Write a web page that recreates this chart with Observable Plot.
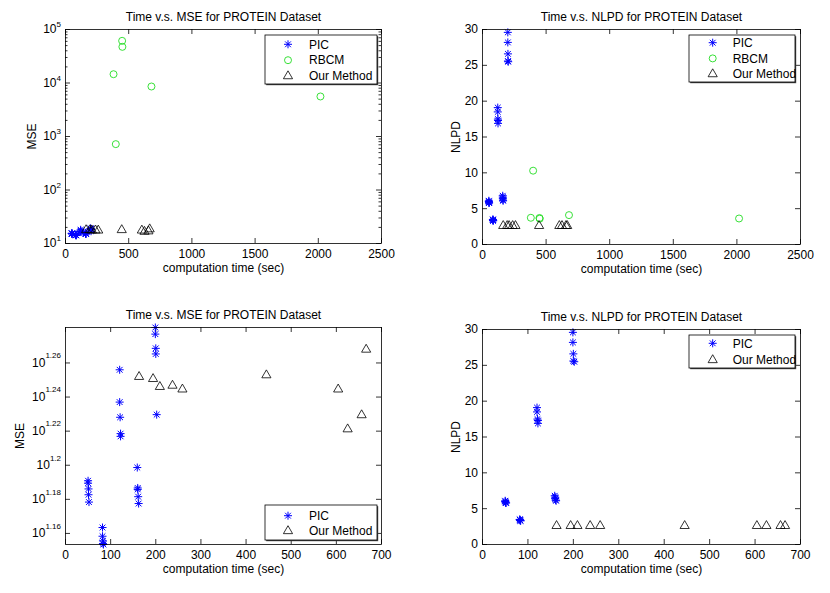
<!DOCTYPE html>
<html><head><meta charset="utf-8">
<script src="https://cdn.jsdelivr.net/npm/d3@7"></script>
<script src="https://cdn.jsdelivr.net/npm/@observablehq/plot@0.6"></script>
<style>
body{margin:0;background:#fff;}
#root{position:relative;width:830px;height:593px;background:#fff;font-family:"Liberation Sans",Arial,Helvetica,sans-serif;}
.panel{position:absolute;}
</style></head><body><div id="root"></div>
<script>
// ---------- data ----------
const seriesNames = ["PIC", "RBCM", "Our Method"];

const picTime = [50, 50, 51, 51, 52,  82, 82, 83, 83, 84,  120, 120, 121, 122, 122,  159, 160, 160, 161, 162,  199, 199, 200, 200, 202];
const picMSE  = [15.52, 15.47, 15.35, 15.23, 15.08,  14.57, 14.40, 14.31, 14.26, 14.24,  18.03, 17.26, 16.91, 16.54, 16.48,  15.80, 15.37, 15.34, 15.19, 15.05,  19.09, 18.92, 18.56, 18.42, 16.97];
const picNLPD = [6.1, 6.0, 5.9, 5.8, 5.8,  3.5, 3.45, 3.4, 3.35, 3.3,  19.1, 18.5, 17.5, 17.3, 16.9,  6.8, 6.6, 6.4, 6.2, 6.1,  29.6, 28.2, 26.6, 25.6, 25.5];

const rbcmTime = [380, 398, 448, 450, 680, 2017];
const rbcmMSE  = [14600, 720, 61400, 47400, 8600, 5600];
const rbcmNLPD = [3.73, 10.3, 3.7, 3.6, 4.1, 3.63];

const ourTime = [163, 194, 209, 237, 259, 445, 604, 625, 656, 666];
const ourMSE  = [17.86, 17.81, 17.62, 17.65, 17.56, 17.90, 17.56, 16.64, 16.96, 18.53];
const ourNLPD = [2.6, 2.6, 2.6, 2.6, 2.6, 2.6, 2.6, 2.6, 2.6, 2.6];

const topXTicks = [0, 500, 1000, 1500, 2000, 2500];
const bottomXTicks = [0, 100, 200, 300, 400, 500, 600, 700];
const mseTopExponents = [1, 2, 3, 4, 5];
const mseBottomExponents = [1.16, 1.18, 1.2, 1.22, 1.24, 1.26];
const nlpdTicks = [0, 5, 10, 15, 20, 25, 30];

const xLabel = "computation time (sec)";
const titleMSE = "Time v.s. MSE for PROTEIN Dataset";
const titleNLPD = "Time v.s. NLPD for PROTEIN Dataset";
const labelMSE = "MSE";
const labelNLPD = "NLPD";

// ---------- tables ----------
const pic = picTime.map((t, i) => ({t, mse: picMSE[i], nlpd: picNLPD[i]}));
const rbcm = rbcmTime.map((t, i) => ({t, mse: rbcmMSE[i], nlpd: rbcmNLPD[i]}));
const ours = ourTime.map((t, i) => ({t, mse: ourMSE[i], nlpd: ourNLPD[i]}));

const FONT = '"Liberation Sans", Arial, Helvetica, sans-serif';

// MATLAB-style "*" marker: a plus overlaid with a shorter x
const starSymbol = {
  draw(ctx, size) {
    const r = Math.sqrt(size / Math.PI);
    const d = r * 0.72;
    ctx.moveTo(-r, 0); ctx.lineTo(r, 0);
    ctx.moveTo(0, -r); ctx.lineTo(0, r);
    ctx.moveTo(-d, -d); ctx.lineTo(d, d);
    ctx.moveTo(-d, d); ctx.lineTo(d, -d);
  }
};

const styles = {
  PIC: {symbol: starSymbol, r: 4, color: "#0000ff", sw: 1},
  RBCM: {symbol: d3.symbolCircle, r: 3.5, color: "#22dd22", sw: 0.9},
  "Our Method": {symbol: d3.symbolTriangle, r: 3.4, color: "#000000", sw: 0.8}
};

const minorTop = [];
for (const e of [1, 2, 3, 4]) for (let k = 2; k <= 9; k++) minorTop.push(k * 10 ** e);

function expFormat(d) {
  let e = Math.log10(d).toFixed(2).replace(/0+$/, "").replace(/\.$/, "");
  return "10^" + e;
}

function panel(o) {
  const {w, h, ml, mr, mt, mb} = o;
  const iw = w - ml - mr, ih = h - mt - mb;
  const tk = {stroke: "black", strokeWidth: 0.8};
  const marks = [
    Plot.tickX(o.xTicks, {x: d => d, insetTop: ih - 5, ...tk}),
    Plot.tickX(o.xTicks, {x: d => d, insetBottom: ih - 5, ...tk}),
    Plot.tickY(o.yTicks, {y: d => d, insetRight: iw - 5, ...tk}),
    Plot.tickY(o.yTicks, {y: d => d, insetLeft: iw - 5, ...tk})
  ];
  if (o.yMinor) {
    marks.push(Plot.tickY(o.yMinor, {y: d => d, insetRight: iw - 2.5, ...tk}));
    marks.push(Plot.tickY(o.yMinor, {y: d => d, insetLeft: iw - 2.5, ...tk}));
  }
  marks.push(Plot.axisX(o.xTicks, {anchor: "bottom", tickSize: 0, tickPadding: 6, fontSize: 12, label: null, tickFormat: d => String(d)}));
  marks.push(Plot.axisY(o.yTicks, {anchor: "left", tickSize: 0, tickPadding: 4.5, fontSize: 12, label: null, tickFormat: o.yFormat}));
  for (const s of o.series) {
    const st = styles[s.name];
    marks.push(Plot.dot(s.data, {x: "t", y: o.yKey, symbol: st.symbol, r: st.r, stroke: st.color, strokeWidth: st.sw, fill: "none"}));
  }
  marks.push(Plot.frame(tk));
  const txt = {text: d => d, fontSize: 12, textAnchor: "middle", lineAnchor: "middle", fill: "black"};
  marks.push(Plot.text([o.title], {frameAnchor: "top", dy: -12, ...txt}));
  marks.push(Plot.text([xLabel], {frameAnchor: "bottom", dy: 24.5, ...txt}));
  marks.push(Plot.text([o.yLabel], {frameAnchor: "left", dx: o.yLabelDx, rotate: -90, ...txt}));

  const svg = Plot.plot({
    width: w, height: h,
    marginLeft: ml, marginRight: mr, marginTop: mt, marginBottom: mb,
    x: {type: "linear", domain: o.xDomain},
    y: {type: o.yType, domain: o.yDomain},
    style: {fontFamily: FONT, background: "white", color: "black", overflow: "visible"},
    marks
  });

  // superscript exponents in log tick labels
  svg.querySelectorAll('g[aria-label="y-axis tick label"] text').forEach(t => {
    const s = t.textContent;
    if (!s.includes("^")) return;
    const [b, e] = s.split("^");
    t.textContent = "";
    const ns = "http://www.w3.org/2000/svg";
    const t1 = document.createElementNS(ns, "tspan");
    t1.textContent = b;
    const t2 = document.createElementNS(ns, "tspan");
    t2.setAttribute("dy", -o.supRaise);
    t2.setAttribute("font-size", 8);
    t2.textContent = e;
    t.append(t1, t2);
  });

  // legend
  const L = o.legend;
  const g = d3.select(svg).append("g");
  g.append("rect").attr("x", L.x + 1.2).attr("y", L.y + 1.2).attr("width", L.w).attr("height", L.h).attr("fill", "#444");
  g.append("rect").attr("x", L.x).attr("y", L.y).attr("width", L.w).attr("height", L.h)
    .attr("fill", "white").attr("stroke", "black").attr("stroke-width", 0.8);
  o.series.forEach((s, i) => {
    const st = styles[s.name];
    const y = L.y0 + i * L.dy;
    g.append("path").attr("d", d3.symbol(st.symbol, Math.PI * st.r * st.r)())
      .attr("transform", `translate(${L.mx},${y})`)
      .attr("fill", "none").attr("stroke", st.color).attr("stroke-width", st.sw);
    g.append("text").attr("x", L.tx).attr("y", y).attr("dy", "0.35em")
      .attr("text-anchor", "start")
      .attr("font-size", 12).attr("font-family", FONT).attr("fill", "black").text(s.name);
  });

  const div = document.createElement("div");
  div.className = "panel";
  div.style.left = o.left + "px";
  div.style.top = o.top + "px";
  div.appendChild(svg);
  document.getElementById("root").appendChild(div);
}

const [PICn, RBCMn, OURn] = seriesNames;

panel({
  left: 0, top: 0, w: 415, h: 300, ml: 65, mr: 34, mt: 29, mb: 57,
  xDomain: [0, 2500], xTicks: topXTicks,
  yType: "log", yDomain: [10, 1e5], yTicks: mseTopExponents.map(e => 10 ** e), yMinor: minorTop,
  yFormat: expFormat, supRaise: 6, yKey: "mse",
  title: titleMSE, yLabel: labelMSE, yLabelDx: -33.3,
  series: [{name: PICn, data: pic}, {name: RBCMn, data: rbcm}, {name: OURn, data: ours}],
  legend: {x: 265, y: 35, w: 112, h: 49, y0: 44.3, dy: 15.9, mx: 288, tx: 309}
});

panel({
  left: 415, top: 0, w: 415, h: 300, ml: 67, mr: 30, mt: 29, mb: 56,
  xDomain: [0, 2500], xTicks: topXTicks,
  yType: "linear", yDomain: [0, 30], yTicks: nlpdTicks,
  yFormat: d => String(d), supRaise: 0, yKey: "nlpd",
  title: titleNLPD, yLabel: labelNLPD, yLabelDx: -26.3,
  series: [{name: PICn, data: pic}, {name: RBCMn, data: rbcm}, {name: OURn, data: ours}],
  legend: {x: 274, y: 35, w: 106, h: 47, y0: 42.7, dy: 15.7, mx: 297.7, tx: 317.7}
});

panel({
  left: 0, top: 300, w: 415, h: 293, ml: 65, mr: 34, mt: 27, mb: 49,
  xDomain: [0, 700], xTicks: bottomXTicks,
  yType: "log", yDomain: d3.extent(picMSE.concat(ourMSE)), yTicks: mseBottomExponents.map(e => 10 ** e),
  yFormat: expFormat, supRaise: 8.5, yKey: "mse",
  title: titleMSE, yLabel: labelMSE, yLabelDx: -45,
  series: [{name: PICn, data: pic}, {name: OURn, data: ours}],
  legend: {x: 265, y: 205, w: 112, h: 35, y0: 215.7, dy: 15.3, mx: 288, tx: 309}
});

panel({
  left: 415, top: 300, w: 415, h: 293, ml: 67, mr: 30, mt: 29, mb: 49,
  xDomain: [0, 700], xTicks: bottomXTicks,
  yType: "linear", yDomain: [0, 30], yTicks: nlpdTicks,
  yFormat: d => String(d), supRaise: 0, yKey: "nlpd",
  title: titleNLPD, yLabel: labelNLPD, yLabelDx: -26.3,
  series: [{name: PICn, data: pic}, {name: OURn, data: ours}],
  legend: {x: 274, y: 35, w: 106, h: 33, y0: 43.3, dy: 16.7, mx: 297.7, tx: 317.7}
});
</script>
</body></html>
